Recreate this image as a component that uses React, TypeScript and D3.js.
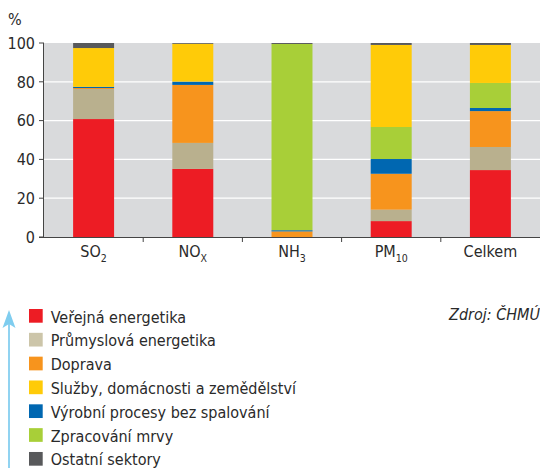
import React from "react";
import * as d3 from "d3";

const categories = ["SO2", "NOx", "NH3", "PM10", "Celkem"];
const catMain = ["SO", "NO", "NH", "PM", "Celkem"];
const catSub = ["2", "X", "3", "10", ""];

const seriesKeys = ["verejna", "prumyslova", "doprava", "vyrobni", "mrva", "sluzby", "ostatni"];
const verejna = [60.8, 35.1, 0, 8.2, 34.5];
const prumyslova = [15.5, 13.4, 0, 5.9, 11.9];
const doprava = [0.5, 29.9, 2.9, 18.5, 18.5];
const vyrobni = [0.6, 1.7, 0.6, 7.6, 1.6];
const mrva = [0, 0, 96.0, 16.5, 12.9];
const sluzby = [20.0, 19.5, 0, 42.3, 19.6];
const ostatni = [2.6, 0.4, 0.5, 1.0, 1.0];

const yTicks = [0, 20, 40, 60, 80, 100];

const legendKeys = ["verejna", "prumyslova", "doprava", "sluzby", "vyrobni", "mrva", "ostatni"];
const legendLabels = [
  "Veřejná energetika",
  "Průmyslová energetika",
  "Doprava",
  "Služby, domácnosti a zemědělství",
  "Výrobní procesy bez spalování",
  "Zpracování mrvy",
  "Ostatní sektory",
];

const colors: Record<string, string> = {
  verejna: "#ed1c24",
  prumyslova: "#b9b08e",
  doprava: "#f7941d",
  sluzby: "#ffcb08",
  vyrobni: "#0067b1",
  mrva: "#a8cf38",
  ostatni: "#58595b",
};
const legendColors: Record<string, string> = {
  ...colors,
  prumyslova: "#ccc5a9",
};

const FONT = "'DejaVu Sans Condensed', 'DejaVu Sans', sans-serif";
const TEXT = "#2a2a2a";

export default function App() {
  const W = 540;
  const H = 468;
  const plotL = 44;
  const plotR = 540;
  const plotT = 43;
  const plotB = 237;

  const rows = categories.map((c, i) => ({
    cat: c,
    verejna: verejna[i],
    prumyslova: prumyslova[i],
    doprava: doprava[i],
    vyrobni: vyrobni[i],
    mrva: mrva[i],
    sluzby: sluzby[i],
    ostatni: ostatni[i],
  }));

  const x = d3
    .scaleBand<string>()
    .domain(categories)
    .range([plotL, plotR])
    .paddingInner(0.587)
    .paddingOuter(0.2935);
  const y = d3.scaleLinear().domain([0, 100]).range([plotB, plotT]);

  const stacked = d3.stack<any>().keys(seriesKeys)(rows);
  const step = x.step();

  return (
    <svg
      width={W}
      height={H}
      style={{ position: "absolute", left: 0, top: 0, display: "block" }}
      fontFamily={FONT}
      fontStretch="condensed"
    >
      <rect x={0} y={0} width={W} height={H} fill="#ffffff" />
      <rect x={plotL} y={plotT} width={plotR - plotL} height={plotB - plotT} fill="#d9dadc" />
      {yTicks
        .filter((t) => t > 0 && t < 100)
        .map((t) => (
          <line key={t} x1={plotL} x2={plotR} y1={y(t)} y2={y(t)} stroke="#ffffff" strokeWidth={1.3} />
        ))}
      {stacked.map((s) => (
        <g key={s.key} fill={colors[s.key]}>
          {s.map((d, i) => {
            const h = y(d[0]) - y(d[1]);
            if (h <= 0) return null;
            return (
              <rect
                key={i}
                x={x(categories[i])!}
                y={y(d[1])}
                width={x.bandwidth()}
                height={h}
              />
            );
          })}
        </g>
      ))}
      {/* y axis */}
      <line x1={plotL - 0.5} x2={plotL - 0.5} y1={plotT} y2={plotB} stroke="#444" strokeWidth={1} />
      {yTicks.map((t) => (
        <g key={t}>
          <line x1={plotL - 5} x2={plotL} y1={y(t)} y2={y(t)} stroke="#444" strokeWidth={1} />
          <text x={35} y={y(t)} dy="0.36em" textAnchor="end" fontSize={16} fill={TEXT}>
            {t}
          </text>
        </g>
      ))}
      <text x={8} y={25} fontSize={16} fill={TEXT}>
        %
      </text>
      {/* x axis */}
      <line x1={plotL - 5} x2={plotR} y1={plotB + 0.5} y2={plotB + 0.5} stroke="#444" strokeWidth={1} />
      {categories.slice(1).map((c) => (
        <line
          key={c}
          x1={x(c)! - (step - x.bandwidth()) / 2}
          x2={x(c)! - (step - x.bandwidth()) / 2}
          y1={plotB}
          y2={plotB + 5}
          stroke="#444"
          strokeWidth={1}
        />
      ))}
      {categories.map((c, i) => (
        <text
          key={c}
          x={x(c)! + x.bandwidth() / 2}
          y={257}
          textAnchor="middle"
          fontSize={16}
          fill={TEXT}
        >
          <tspan>{catMain[i]}</tspan>
          {catSub[i] ? (
            <tspan fontSize={10.5} dy={5}>
              {catSub[i]}
            </tspan>
          ) : null}
        </text>
      ))}
      {/* arrow */}
      <line x1={9} x2={9} y1={322} y2={468} stroke="#6cc4ec" strokeWidth={1.5} />
      <path d="M9,310 L15.5,328 L9,324 L2.5,328 Z" fill="#7fcdef" />
      {/* legend */}
      {legendKeys.map((k, i) => (
        <g key={k} transform={`translate(29, ${309 + i * 23.83})`}>
          <rect x={0} y={0} width={13.7} height={13.7} fill={legendColors[k]} />
          <text x={21.7} y={13.5} fontSize={16} fill={TEXT}>
            {legendLabels[i]}
          </text>
        </g>
      ))}
      <text x={540} y={320} textAnchor="end" fontSize={16} fontStyle="italic" fill={TEXT}>
        Zdroj: ČHMÚ
      </text>
    </svg>
  );
}
